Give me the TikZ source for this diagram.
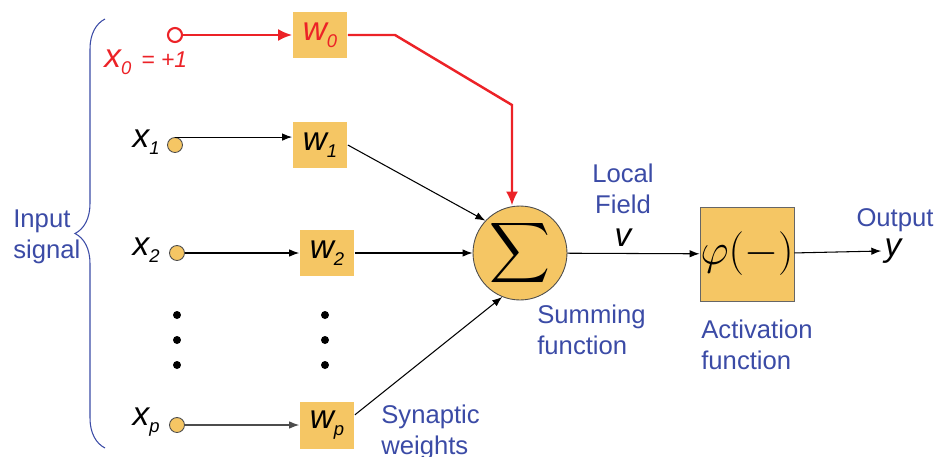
\documentclass[tikz,border=0pt]{standalone}
\usepackage[no-math]{fontspec}
\setmainfont{Liberation Sans}
\usetikzlibrary{decorations.pathreplacing,arrows.meta}
\definecolor{wfill}{HTML}{F5C664}
\definecolor{lblue}{HTML}{3B4BA6}
\definecolor{sred}{HTML}{EC2227}
%%% italic variable with lowered subscript
\newcommand{\sig}[2]{{\fontsize{19}{22}\selectfont\itshape #1}\raisebox{-4pt}{\fontsize{10.5}{12}\selectfont\itshape #2}}
\tikzset{
	weight/.style={fill=wfill,minimum width=1.1cm,minimum height=0.94cm,inner sep=0pt},
	inp/.style={circle,fill=wfill,draw=black!70,line width=0.5pt,minimum size=0.3cm,inner sep=0pt},
	lab/.style={text=lblue,font=\fontsize{14.6}{17.5}\selectfont,align=left,inner sep=0pt},
	conn/.style={line width=0.6pt,-{Latex[length=0.2cm,width=0.15cm]}},
	bias/.style={sred,line width=1.4pt,-{Latex[length=0.28cm,width=0.24cm]}},
	dot/.style={fill,circle,inner sep=0pt,minimum size=0.16cm}
}
\begin{document}
\begin{tikzpicture}[x=0.02cm,y=-0.02cm]
\useasboundingbox (0,0) rectangle (938,457);
%%% Input brace
\draw[lblue,line width=0.6pt,decorate,decoration={brace,amplitude=0.6cm}] (105,448) -- (105,19);
\node[lab,anchor=west] (insig) at (13,237) {Input\\signal};
%%% Bias input
\node[circle,draw=sred,fill=white,line width=1.2pt,minimum size=0.28cm,inner sep=0pt] (x0) at (175,35) {};
\node[anchor=west,text=sred,inner sep=0pt] (x0lab) at (104,62) {\sig{x}{0}{\fontsize{13}{15}\selectfont\itshape\ \,= +1}};
\node[weight,text=sred] (w0) at (320,35) {\sig{w}{0}};
%%% Inputs and weights
\node[inp] (x1) at (175,145) {};
\node[inp] (x2) at (177,253) {};
\node[inp] (xp) at (177,425) {};
\node[anchor=east,inner sep=0pt] (x1lab) at (160,142) {\sig{x}{1}};
\node[anchor=east,inner sep=0pt] (x2lab) at (160,250) {\sig{x}{2}};
\node[anchor=east,inner sep=0pt] (xplab) at (160,422) {\sig{x}{p}};
\node[weight] (w1) at (320,145) {\sig{w}{1}};
\node[weight] (w2) at (327,253) {\sig{w}{2}};
\node[weight] (wp) at (327,425) {\sig{w}{p}};
\foreach \i in {1,...,3}
{
	\pgfmathtruncatemacro{\y}{290+25*\i};
	\node[dot] (dx\i) at (177,\y) {};
	\node[dot] (dw\i) at (325,\y) {};
}
\node[lab,anchor=west] (syn) at (381,432) {Synaptic\\weights};
%%% Summing junction and activation
\node[circle,fill=wfill,draw=black!70,line width=0.5pt,minimum size=1.88cm,inner sep=0pt] (sum) at (520,253) {\scalebox{2.4}{$\displaystyle\sum$}};
\node[lab,anchor=west] (sumlab) at (537,330) {Summing\\function};
\node[lab,align=center] (field) at (623,189) {Local\\Field};
\node[inner sep=0pt] (v) at (623,238) {\fontsize{19}{22}\selectfont\itshape v};
\node[fill=wfill,draw=black!60,line width=0.5pt,minimum size=1.88cm,inner sep=0pt] (phi) at (747,254) {\fontsize{24}{28}\selectfont$\varphi({-})$};
\node[lab,anchor=west] (actlab) at (701,345) {Activation\\function};
\node[inner sep=0pt] (y) at (893,251) {\fontsize{19}{22}\selectfont\itshape y};
\node[lab] (out) at (895,220) {Output};
%%% Connections
\coordinate (r1) at (395,35);
\coordinate (r2) at (512,105);
\draw[bias] (x0) -- (w0);
\draw[bias] (w0.east) -- (r1) -- (r2) -- (r2 |- sum.north);
\draw[conn] (x1.north) -- (x1.north -| w1.west);
\draw[conn] (x2) -- (w2);
\draw[conn,black!70] (xp) -- (wp);
\draw[conn] (w1.east) -- (sum.137);
\draw[conn] (w2) -- (sum);
\draw[conn] (wp.20) -- (sum.248);
\draw[conn] (sum) -- (phi);
\draw[conn] (phi) -- ([xshift=-0.06cm]y.west);
\end{tikzpicture}
\end{document}
